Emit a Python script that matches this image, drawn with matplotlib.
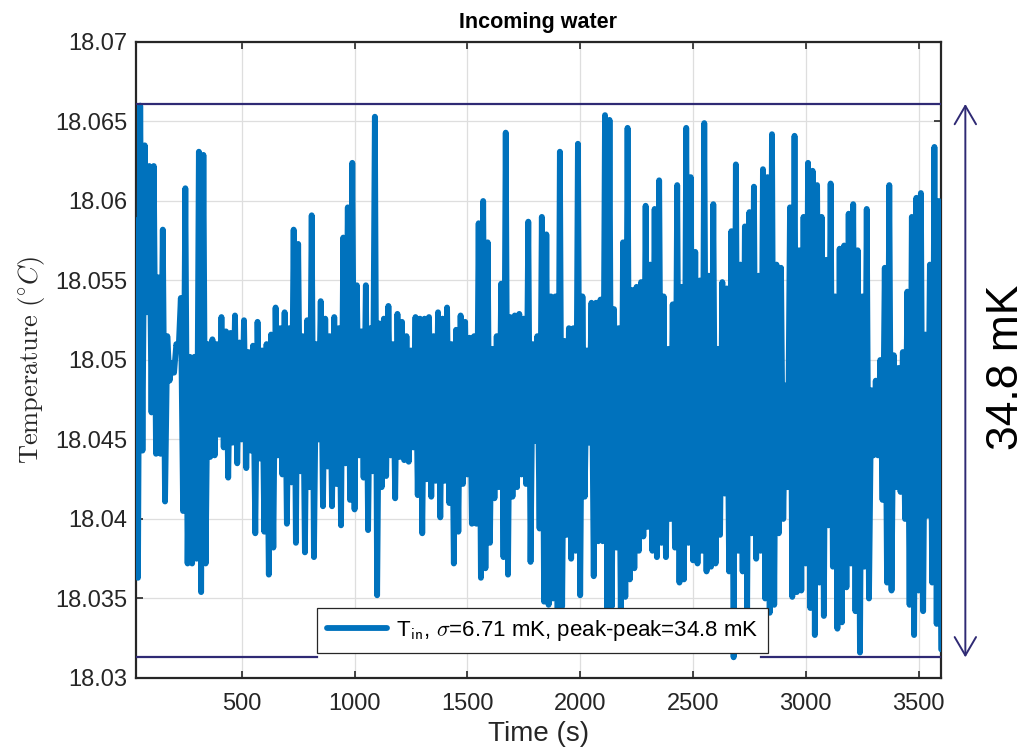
import numpy as np
import matplotlib
matplotlib.use("Agg")
import matplotlib.pyplot as plt

# ---------------- data ----------------
BASE_TEMP = 18.03          # degC, values below are mK above this
T_START = 30               # s, first sample
DT = 10                    # s, sample spacing

# local maxima / minima of the trace (mK above 18.03), alternating high, low
highs_mK = [
    28.8, 36.0, 33.5, 32.2, 32.2, 25.2, 28.2, 21.5, 19.8, 21.0,
    23.9, 30.8, 20.2, 20.2, 33.1, 32.9, 21.0, 21.3, 21.0, 22.7,
    21.8, 21.7, 22.8, 21.1, 22.5, 20.5, 20.9, 22.4, 20.6, 21.0,
    21.6, 23.3, 22.0, 23.0, 22.0, 28.2, 27.3, 21.5, 22.5, 29.1,
    21.0, 23.7, 22.6, 21.5, 22.7, 22.0, 27.7, 29.6, 32.4, 24.7,
    21.8, 24.7, 22.0, 35.3, 22.3, 22.6, 23.4, 21.0, 22.9, 22.4,
    21.5, 20.6, 22.7, 22.6, 22.6, 22.7, 21.5, 23.0, 22.6, 23.3,
    21.0, 21.9, 22.8, 22.4, 21.4, 21.5, 28.6, 30.0, 27.4, 20.7,
    21.5, 24.8, 34.3, 22.7, 22.8, 22.9, 22.6, 28.7, 21.0, 21.5,
    29.0, 27.9, 24.0, 24.0, 33.1, 21.2, 22.0, 22.0, 33.6, 24.0,
    20.6, 23.6, 23.6, 23.8, 35.4, 35.1, 23.2, 22.0, 27.4, 34.6,
    24.4, 24.6, 24.9, 29.7, 26.0, 29.5, 31.3, 24.0, 20.7, 23.5,
    31.0, 24.6, 34.6, 31.5, 26.8, 25.0, 34.9, 25.3, 29.8, 20.7,
    24.9, 24.5, 28.1, 32.3, 26.0, 28.4, 29.3, 30.9, 25.3, 32.0,
    31.5, 34.2, 26.0, 25.8, 18.4, 29.6, 34.1, 26.9, 29.0, 32.4,
    31.9, 31.0, 29.0, 26.3, 31.1, 24.0, 27.0, 27.2, 29.2, 29.8,
    26.9, 24.0, 29.5, 18.1, 18.7, 20.0, 25.8, 31.0, 20.3, 19.5,
    20.5, 24.3, 29.0, 30.2, 30.5, 21.6, 26.0, 33.4, 30.0,
]
lows_mK = [
    6.3, 14.3, 23.0, 16.7, 14.1, 14.1, 11.1, 18.7, 19.2, 20.6,
    10.5, 7.2, 7.2, 7.5, 5.4, 7.2, 13.9, 14.0, 15.3, 14.5,
    12.6, 14.8, 13.5, 15.0, 13.2, 14.3, 9.1, 13.8, 9.2, 6.5,
    8.2, 14.0, 12.8, 9.7, 12.3, 8.5, 13.0, 7.9, 12.0, 7.6,
    15.0, 10.8, 13.3, 10.8, 12.2, 9.6, 13.5, 11.2, 10.6, 14.0,
    12.6, 9.3, 13.0, 5.2, 12.0, 12.7, 14.0, 11.3, 13.9, 13.7,
    13.6, 14.5, 11.5, 9.1, 12.5, 11.4, 12.4, 10.1, 12.4, 11.0,
    7.2, 9.2, 12.2, 12.8, 9.7, 9.7, 6.3, 6.9, 8.5, 11.3,
    12.0, 7.6, 6.5, 11.4, 12.0, 12.8, 12.2, 7.3, 14.9, 9.4,
    4.8, 4.6, 5.0, 4.0, 4.5, 9.0, 7.5, 8.0, 5.2, 11.4,
    14.8, 6.4, 8.6, 8.6, 4.2, 4.5, 8.2, 4.0, 5.1, 6.2,
    6.9, 8.0, 8.9, 9.5, 8.0, 7.6, 8.5, 7.6, 10.0, 8.2,
    6.0, 6.2, 8.5, 7.4, 7.2, 8.0, 6.7, 7.0, 7.2, 9.0,
    11.6, 6.7, 1.3, 8.0, 6.7, 4.4, 9.1, 7.5, 8.0, 5.0,
    4.1, 4.6, 9.1, 10.0, 12.0, 5.1, 5.4, 5.5, 7.2, 4.4,
    2.7, 6.0, 3.9, 9.6, 7.0, 3.1, 3.5, 5.7, 7.2, 4.2,
    1.6, 7.0, 5.0, 14.0, 14.0, 11.2, 6.0, 5.5, 12.0, 11.7,
    10.0, 4.6, 2.7, 5.5, 4.2, 10.2, 6.0, 3.4, 1.8,
]

upper_level = 18.0661            # max marker line
lower_level = 18.0313            # min marker line
lower_line_spans = [(30, 832), (2801, 3600)]
x_limits = (30, 3600)
y_limits = (18.03, 18.07)
x_ticks = [500, 1000, 1500, 2000, 2500, 3000, 3500]
y_ticks = [18.03, 18.035, 18.04, 18.045, 18.05, 18.055, 18.06, 18.065, 18.07]
y_tick_labels = ["18.03", "18.035", "18.04", "18.045", "18.05",
                 "18.055", "18.06", "18.065", "18.07"]
legend_label = r"T$_{\mathsf{in}}$, $\sigma$=6.71 mK, peak-peak=34.8 mK"
span_label = "34.8 mK"

# ---------------- build series ----------------
n = len(highs_mK)
temps = np.empty(2 * n)
temps[0::2] = BASE_TEMP + np.asarray(highs_mK) / 1000.0
temps[1::2] = BASE_TEMP + np.asarray(lows_mK) / 1000.0
times = T_START + DT * np.arange(2 * n)

# ---------------- style ----------------
plt.rcParams["font.family"] = ["Liberation Sans", "DejaVu Sans"]
plt.rcParams["mathtext.fontset"] = "cm"

blue = "#0072BD"
navy = "#2f2a74"
axcol = "#262626"

fig = plt.figure(figsize=(10.32, 7.55), dpi=100)
ax = fig.add_axes([0.1315, 0.102, 0.7805, 0.8424])

ax.plot(times, temps, color=blue, lw=4.2, solid_joinstyle="round",
        solid_capstyle="round", label=legend_label, zorder=3)

ax.plot(x_limits, [upper_level, upper_level], color=navy, lw=1.6, zorder=4)
for a, b in lower_line_spans:
    ax.plot([a, b], [lower_level, lower_level], color=navy, lw=1.6, zorder=4)

ax.set_xlim(*x_limits)
ax.set_ylim(*y_limits)
ax.set_xticks(x_ticks)
ax.set_yticks(y_ticks)
ax.set_yticklabels(y_tick_labels)

ax.grid(True, color="#dedede", lw=0.9)
ax.set_axisbelow(True)
for s in ax.spines.values():
    s.set_color(axcol)
    s.set_linewidth(1.6)
ax.tick_params(which="both", direction="in", top=True, right=True,
               length=5, width=1.2, color=axcol, labelcolor=axcol,
               labelsize=17)
ax.tick_params(axis="x", pad=11)
ax.tick_params(axis="y", pad=6)

ax.set_title("Incoming water", fontsize=15.5, fontweight="bold", pad=10,
             color="black")
ax.set_xlabel("Time (s)", fontsize=20, color=axcol, labelpad=4)
ax.set_ylabel(r"$\mathrm{Temperature}\ (^{\circ}C)$", fontsize=19,
              color=axcol, labelpad=6)

leg = ax.legend(loc="lower left", bbox_to_anchor=(0.225, 0.039),
                fancybox=False, framealpha=1, edgecolor=axcol,
                fontsize=16, handlelength=2.7, handletextpad=0.4,
                borderpad=0.45, borderaxespad=0)
leg.get_frame().set_linewidth(0.9)
leg.set_zorder(5)

ax.annotate("", xy=(1.03, lower_level), xytext=(1.03, upper_level),
            xycoords=ax.get_yaxis_transform(),
            textcoords=ax.get_yaxis_transform(),
            arrowprops=dict(arrowstyle="<->,head_length=0.6,head_width=0.35",
                            color=navy, lw=1.4, mutation_scale=22,
                            shrinkA=0, shrinkB=0),
            annotation_clip=False)
fig.text(0.975, 0.514, span_label, rotation=90, fontsize=32,
         ha="center", va="center", color="black")

fig.savefig("out.png", dpi=100)
